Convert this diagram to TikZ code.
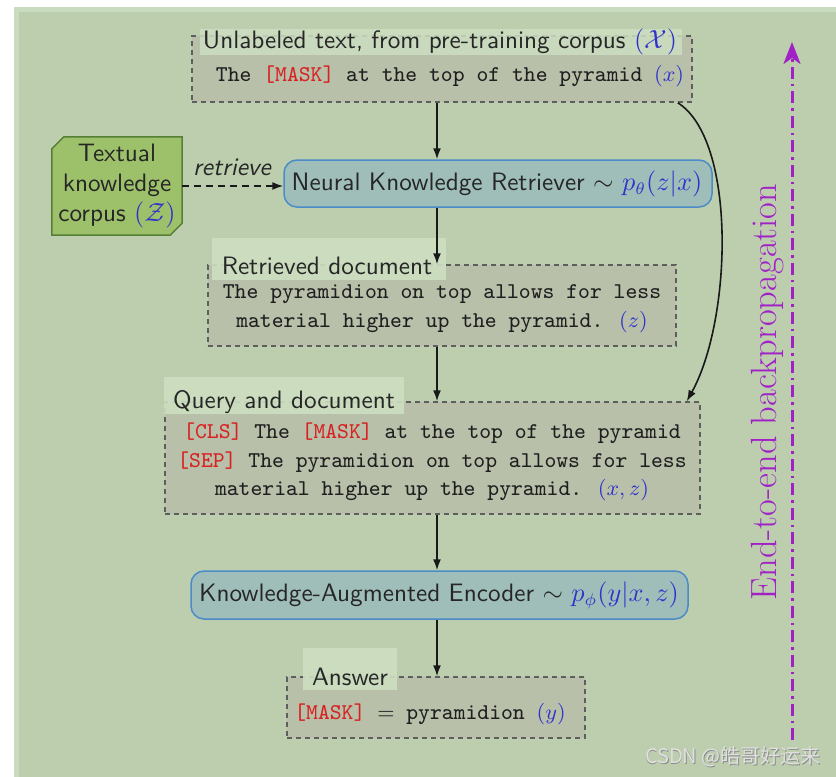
\documentclass[tikz,border=0pt]{standalone}
\usepackage{fontspec}
\newfontfamily\cjkfont{Noto Sans CJK SC}
\usetikzlibrary{arrows.meta}
\definecolor{bg}{HTML}{BCCEAE}
\definecolor{bglight}{HTML}{CADCBF}
\definecolor{boxfill}{HTML}{B8C0AA}
\definecolor{patch}{HTML}{CDDEC1}
\definecolor{retfill}{HTML}{9FBEB9}
\definecolor{retdraw}{HTML}{4A8BC8}
\definecolor{corpfill}{HTML}{9DC16A}
\definecolor{corpdraw}{HTML}{557F34}
\definecolor{mblue}{HTML}{2F33CC}
\definecolor{mred}{HTML}{D82222}
\definecolor{purp}{HTML}{A021C6}
\definecolor{dashgray}{HTML}{5E5E5E}
\newcommand{\sfsz}{\fontsize{10.5}{12.4}\selectfont\sffamily}
\newcommand{\ttsz}{\fontsize{9.4}{12.0}\selectfont\ttfamily}
\newcommand{\bluem}[1]{\textcolor{mblue}{$#1$}}
\newcommand{\redt}[1]{\textcolor{mred}{#1}}
\begin{document}
\begin{tikzpicture}[x=1pt,y=-1pt,
  dbox/.style={draw=dashgray, dash pattern=on 5pt off 4pt, line width=1.5pt, fill=boxfill, inner sep=0pt},
  rbox/.style={draw=retdraw, line width=1.5pt, fill=retfill, rounded corners=13pt, inner sep=0pt},
  ttl/.style={font=\sfsz, inner sep=0pt, text=black!85, scale=2.4},
  body/.style={font=\ttsz, align=center, inner sep=0pt, text=black!88, scale=2.4},
  patchst/.style={fill=patch, inner sep=0pt, draw=none},
  arr/.style={-{Latex[length=11pt,width=8pt]}, line width=1.6pt, draw=black!90}]
\useasboundingbox (0,0) rectangle (836,777);
\fill[white] (0,0) rectangle (836,777);
\fill[bglight] (14,7) rectangle (836,777);
\fill[bg] (19,12) rectangle (836,777);

% box 1
\node[dbox, minimum width=500pt, minimum height=66pt] (b1) at (442,69) {};
\node[patchst, minimum width=482pt, minimum height=26pt, opacity=0.85] (p1) at (441,42) {};
\node[ttl] (t1) at (440,42) {Unlabeled text, from pre-training corpus \bluem{(\mathcal{X})}};
\node[body] (x1) at (450,76) {The \redt{[MASK]} at the top of the pyramid \bluem{(x)}};

% retriever
\node[rbox, minimum width=428pt, minimum height=47pt] (ret) at (498,183.5) {};
\node[ttl] (rett) at (497,184) {Neural Knowledge Retriever $\sim$ \bluem{p_\theta(z|x)}};

% corpus
\node[minimum width=130pt, minimum height=98pt, inner sep=0pt] (corp) at (117,186) {};
\filldraw[fill=corpfill, draw=corpdraw, line width=1.5pt]
  ([xshift=12pt]corp.north west) -- (corp.north east) -- ([yshift=12pt]corp.south east)
  -- ([xshift=-12pt]corp.south east) -- (corp.south west) -- ([yshift=-12pt]corp.north west) -- cycle;
\node[ttl, align=center] (ctext) at (117,186) {Textual\\knowledge\\corpus \bluem{(\mathcal{Z})}};

% retrieved document
\node[dbox, minimum width=468pt, minimum height=81pt] (b2) at (442,305.5) {};
\node[patchst, minimum width=234pt, minimum height=42pt, opacity=0.9] (p2) at (329,259) {};
\node[ttl] (t2) at (327,266) {Retrieved document};
\node[body] (x2) at (442,309) {The pyramidion on top allows for less\\material higher up the pyramid. \bluem{(z)}};

% query and document
\node[dbox, minimum width=535pt, minimum height=112pt] (b3) at (432.5,458) {};
\node[patchst, minimum width=240pt, minimum height=37pt, opacity=0.9] (p3) at (284,395.5) {};
\node[ttl] (t3) at (284,402) {Query and document};
\node[body] (x3) at (432,462) {\redt{[CLS]} The \redt{[MASK]} at the top of the pyramid\\\redt{[SEP]} The pyramidion on top allows for less\\material higher up the pyramid. \bluem{(x,z)}};

% encoder
\node[rbox, minimum width=497pt, minimum height=48pt] (enc) at (439.5,595) {};
\node[ttl] (enct) at (439,595) {Knowledge-Augmented Encoder $\sim$ \bluem{p_\phi(y|x,z)}};

% answer
\node[dbox, minimum width=298pt, minimum height=61pt] (b4) at (436,707.5) {};
\node[patchst, minimum width=94pt, minimum height=42pt, opacity=0.9] (p4) at (350,669) {};
\node[ttl] (t4) at (350,677) {Answer};
\node[body] (x4) at (430,714) {\redt{[MASK]} $=$ pyramidion \bluem{(y)}};

% arrows
\coordinate (ax) at (437,0);
\draw[arr] (b1.south -| ax) -- (ret.north -| ax);
\draw[arr] (ret.south -| ax) -- (b2.north -| ax);
\draw[arr] (b2.south -| ax) -- (b3.north -| ax);
\draw[arr] (b3.south -| ax) -- (enc.north -| ax);
\draw[arr] (enc.south -| ax) -- (b4.north -| ax);
\draw[arr] ([xshift=-15pt]b1.south east) .. controls (737,140) and (732,320) .. ([xshift=-14pt]b3.north east);
\draw[arr, dash pattern=on 7pt off 5pt] (corp.east) -- (corp.east -| ret.west);
\node[font=\fontsize{10.5}{13}\selectfont\sffamily\itshape, anchor=base, inner sep=0pt, text=black!85, scale=2.4] (rl) at (232,175) {retrieve};

% backpropagation
\coordinate (bpS) at (792,740);
\coordinate (bpN) at (792,42);
\draw[purp, line width=3pt, dash pattern=on 12pt off 5pt on 2.5pt off 5pt, -{Stealth[length=22pt,width=17pt,inset=6pt]}] (bpS) -- (bpN);
\node[rotate=90, text=purp, inner sep=0pt, font=\fontsize{15.2}{18}\selectfont\rmfamily, scale=2.4] (bpl) at (768,392) {End-to-end backpropagation};

% watermark
\node[font=\cjkfont\fontsize{20}{24}\selectfont, text=black!45, anchor=east, inner sep=0pt] at (821.8,757.8) {CSDN @皓哥好运来};
\node[font=\cjkfont\fontsize{20}{24}\selectfont, text=white!88!black, anchor=east, inner sep=0pt] (wm) at (821,757) {CSDN @皓哥好运来};
\end{tikzpicture}
\end{document}
